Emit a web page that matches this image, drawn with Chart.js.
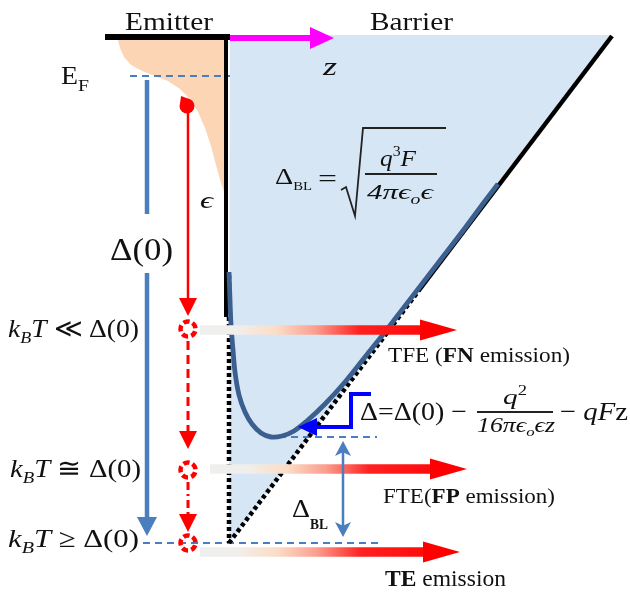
<!DOCTYPE html>
<html><head><meta charset="utf-8">
<script src="https://cdn.jsdelivr.net/npm/chart.js@4/dist/chart.umd.min.js"></script>
<style>html,body{margin:0;padding:0;background:#fff}#wrap{width:630px;height:592px}</style>
</head><body><div id="wrap"><canvas id="c" width="630" height="592"></canvas></div>
<script>
// Diagram coordinates: x = position along z (left to right), y = energy depth (downward)
const barrierRegion = [[230,35],[612,35],[229,543],[230,35]];
const fermiDistribution = [[118,40],[120,48],[124,57],[131,65],[142,71],[155,76],[168,81],[180,89],[190,99],[198,112],[205,128],[211,146],[216,165],[221,183],[226,197],[228,197],[228,40],[118,40]];
const emitterTop = [[105,37],[230,37]];
const wallSolid = [[226,37],[226,317]];
const wallDotted = [[229,275],[229,543]];
const fieldLineSolid = [[420,289],[612,36]];
const fieldLineDotted = [[229,543],[420,289]];
const loweredBarrier = [[229,272],[230,300],[231,325],[233,350],[235,372],[239,395],[245,412],[252,424],[261,433],[271,437],[282,436],[294,431],[308,420],[325,404],[345,382],[365,357],[385,332],[405,306],[425,280],[445,254],[465,228],[485,201],[498,184]];
const fermiLevel = [[130,76],[230,76]];
const barrierMinLevel = [[267,437],[377,437]];
const bottomLevel = [[143,543],[378,543]];
const zAxisArrow = {from:[230,38], tip:[334,38]};
const delta0Arrow = {x:147, top:80, gapTop:214, gapBottom:273, tip:536};
const electronX = 188;
const electronY = [329, 470, 543];
const electronArrowStart = [112, 341, 482];
const electronArrowTip = [316, 449, 532];
const emissionY = [330, 469, 552];
const emissionStartX = [200, 210, 200];
const emissionTipX = [457, 467, 460];
const regimeRelations = ['≪', '≅', '≥'];
const regimeBaselines = [337, 477, 547];
const emissionNames = [['TFE (', 'FN', ' emission)'], ['FTE(', 'FP', ' emission)'], ['', 'TE', ' emission']];
const bracketPath = [[371,394],[351,394],[351,427],[316,427]];
const bracketTip = [298,427];
const deltaBLArrow = {x:343, top:441, bottom:537};
const sqrtPath = [[341,190],[346,187],[355,216],[363,128],[446,128]];
const fracBarBL = [[365,174],[437,174]];
const fracBarImage = [[477,412],[553,412]];

const SERIF = '"Liberation Serif","DejaVu Serif",serif';
const n = s => `${s}px ${SERIF}`;
const it = s => `italic ${s}px ${SERIF}`;
const b = s => `bold ${s}px ${SERIF}`;

const BLUE = '#4a7ebf', RED = '#ff0000';

const datasets = [];
function line(pts, color, width, opts) {
  datasets.push(Object.assign({
    data: pts.map(p => ({x:p[0], y:p[1]})), showLine:true, borderColor:color, backgroundColor:color,
    borderWidth:width, pointRadius:0, pointHoverRadius:0, fill:false, tension:0, borderCapStyle:'butt', borderJoinStyle:'miter'
  }, opts || {}));
}
line(barrierRegion, 'rgba(0,0,0,0)', 0, {fill:'shape', backgroundColor:'#d7e6f4'});
line(fermiDistribution, 'rgba(0,0,0,0)', 0, {fill:'shape', backgroundColor:'#fbd5b4'});
line(fermiLevel, BLUE, 2.2, {borderDash:[7,5]});
line(barrierMinLevel, BLUE, 2, {borderDash:[7,5]});
line(bottomLevel, BLUE, 2.2, {borderDash:[7,5]});
line(emitterTop, '#000', 6);
line(wallSolid, '#000', 4);
line(wallDotted, '#000', 4.5, {borderDash:[4,3]});
line(fieldLineDotted, '#000', 4.5, {borderDash:[4,3]});
line(fieldLineSolid, '#000', 4.5);
line(loweredBarrier, '#3b5f8e', 4.8, {tension:0.4});
line([zAxisArrow.from, [zAxisArrow.tip[0]-22, zAxisArrow.tip[1]]], '#ff00ff', 6);
line([[delta0Arrow.x, delta0Arrow.top],[delta0Arrow.x, delta0Arrow.gapTop]], BLUE, 4.5);
line([[delta0Arrow.x, delta0Arrow.gapBottom],[delta0Arrow.x, delta0Arrow.tip-18]], BLUE, 4.5);
line([[electronX, electronArrowStart[0]],[electronX, electronArrowTip[0]-17]], RED, 2.5);
line([[electronX, electronArrowStart[1]],[electronX, electronArrowTip[1]-17]], RED, 3, {borderDash:[9,5]});
line([[electronX, electronArrowStart[2]],[electronX, electronArrowTip[2]-17]], RED, 3, {borderDash:[8,4,2,4]});
emissionY.forEach((y, i) => {
  const x0 = emissionStartX[i], x1 = emissionTipX[i];
  line([[x0, y],[x1-36, y]], RED, 9.5, {
    borderColor: (ctx) => {
      const ch = ctx.chart; if (!ch.chartArea) return RED;
      const px0 = ch.scales.x.getPixelForValue(x0), px1 = ch.scales.x.getPixelForValue(x1);
      const g = ch.ctx.createLinearGradient(px0, 0, px1, 0);
      g.addColorStop(0, '#efefef'); g.addColorStop(0.14, '#f1efec');
      g.addColorStop(0.3, '#fbdcc6'); g.addColorStop(0.45, '#fb9e8e');
      g.addColorStop(0.62, '#ff2020'); g.addColorStop(1, RED);
      return g;
    }
  });
});
line(bracketPath, '#0000ff', 4);
line([[deltaBLArrow.x, deltaBLArrow.top+10],[deltaBLArrow.x, deltaBLArrow.bottom-10]], BLUE, 2.5);
line(sqrtPath, '#222', 1.8);
line(fracBarBL, '#222', 1.8);
line(fracBarImage, '#222', 1.8);
datasets.forEach((d, i) => d.order = 1000 - i);

function P(chart, p) { return [chart.scales.x.getPixelForValue(p[0]), chart.scales.y.getPixelForValue(p[1])]; }
function head(ctx, chart, tip, dir, len, half, color, notch) {
  const t = P(chart, tip);
  const dx = dir[0], dy = dir[1];
  const bx = t[0] - dx*len, by = t[1] - dy*len;
  const nx = -dy, ny = dx;
  ctx.beginPath();
  ctx.moveTo(t[0], t[1]);
  ctx.lineTo(bx + nx*half, by + ny*half);
  ctx.lineTo(t[0] - dx*len*(1-(notch||0)), t[1] - dy*len*(1-(notch||0)));
  ctx.lineTo(bx - nx*half, by - ny*half);
  ctx.closePath();
  ctx.fillStyle = color; ctx.fill();
}
function runs(ctx, chart, x, y, list, targetW) {
  const p = P(chart, [x, y]);
  ctx.save();
  let w = 0;
  const ws = list.map(r => { ctx.font = r[1]; const m = ctx.measureText(r[0]).width; w += m; return m; });
  const sx = targetW ? targetW / w : 1;
  ctx.translate(p[0], p[1]); ctx.scale(sx, 1);
  ctx.fillStyle = '#111'; ctx.textBaseline = 'alphabetic';
  let cx = 0;
  list.forEach((r, i) => { ctx.font = r[1]; ctx.fillText(r[0], cx, r[2] || 0); cx += ws[i]; });
  ctx.restore();
}

const overlay = {
  id:'overlay',
  afterDatasetsDraw(chart) {
    const ctx = chart.ctx;
    ctx.save();
    // arrow heads
    head(ctx, chart, zAxisArrow.tip, [1,0], 24, 11, '#ff00ff');
    head(ctx, chart, [delta0Arrow.x, delta0Arrow.tip], [0,1], 19, 10, BLUE);
    electronArrowTip.forEach(t => head(ctx, chart, [electronX, t], [0,1], 18, 9, RED));
    emissionY.forEach((y, i) => head(ctx, chart, [emissionTipX[i], y], [1,0], 37, 10.5, RED));
    head(ctx, chart, bracketTip, [-1,0], 19, 9, '#0000ff');
    head(ctx, chart, [deltaBLArrow.x, deltaBLArrow.top], [0,-1], 15, 8, BLUE, 0.25);
    head(ctx, chart, [deltaBLArrow.x, deltaBLArrow.bottom], [0,1], 15, 8, BLUE, 0.25);
    // electrons
    electronY.forEach(y => {
      const c = P(chart, [electronX, y]);
      ctx.beginPath(); ctx.arc(c[0], c[1], 7.5, 0.3, Math.PI*2 + 0.3);
      ctx.setLineDash([6.2, 3.2]); ctx.lineWidth = 4.5; ctx.strokeStyle = RED; ctx.stroke();
    });
    ctx.setLineDash([]);
    // blob at Fermi level start
    const bp = P(chart, [187, 106]);
    ctx.beginPath(); ctx.arc(bp[0], bp[1], 7.5, 0, Math.PI*2); ctx.fillStyle = RED; ctx.fill();
    ctx.beginPath(); ctx.moveTo(bp[0]-7, bp[1]-2); ctx.lineTo(bp[0]-6, bp[1]-10); ctx.lineTo(bp[0]+2, bp[1]-7); ctx.fill();

    // texts
    runs(ctx, chart, 125, 30, [['Emitter', n(26)]], 88);
    runs(ctx, chart, 370, 30, [['Barrier', n(26)]], 83);
    runs(ctx, chart, 323, 75, [['z', it(26)]], 14);
    runs(ctx, chart, 61, 84, [['E', n(26)]], 17);
    runs(ctx, chart, 78, 91, [['F', n(17)]], 11);
    runs(ctx, chart, 200, 208, [['ϵ', it(24)]], 13);
    runs(ctx, chart, 110, 260, [['Δ(0)', n(31)]], 63);
    regimeRelations.forEach((rel, i) => {
      runs(ctx, chart, i === 1 ? 10 : 8, regimeBaselines[i],
        [['k', it(26)], ['B', it(17), 6], ['T', it(26)], [' ' + rel + ' ', n(26)], ['Δ(0)', n(26)]], 131);
    });
    const emX = [388, 383, 385], emB = [362, 503, 586], emW = [182, 172, 121], emS = [21, 21, 23];
    emissionNames.forEach((nm, i) => {
      runs(ctx, chart, emX[i], emB[i], [[nm[0], n(emS[i])], [nm[1], b(emS[i])], [nm[2], n(emS[i])]], emW[i]);
    });
    // Delta_BL formula
    runs(ctx, chart, 275, 184, [['Δ', n(23)], ['BL', n(12), 6]], 37);
    runs(ctx, chart, 318, 186, [['=', n(24)]], 19);
    runs(ctx, chart, 380, 166, [['q', it(24)], ['3', n(15), -10], ['F', it(24)]], 36);
    runs(ctx, chart, 367, 199, [['4', it(22)], ['π', it(22)], ['ϵ', it(22)], ['o', it(14), 5], ['ϵ', it(22)]], 66);
    // image-force barrier formula
    runs(ctx, chart, 360, 420, [['Δ=Δ(0) −', n(26)]], 107);
    runs(ctx, chart, 503, 404, [['q', it(22)], ['2', n(14), -9]], 24);
    runs(ctx, chart, 477, 432, [['16', it(20)], ['π', it(20)], ['ϵ', it(20)], ['o', it(13), 4], ['ϵ', it(20)], ['z', it(20)]], 78);
    runs(ctx, chart, 560, 420, [['− ', n(26)], ['qF', it(26)], ['z', n(26)]], 68);
    // lower Delta_BL label
    runs(ctx, chart, 292, 517, [['Δ', n(26)]], 18);
    runs(ctx, chart, 310, 529, [['BL', b(15)]], 18);
    ctx.restore();
  }
};

new Chart(document.getElementById('c'), {
  type:'scatter',
  data:{datasets},
  options:{
    responsive:false, animation:false, events:[],
    layout:{padding:0},
    scales:{
      x:{type:'linear', min:0, max:630, display:false},
      y:{type:'linear', min:0, max:592, reverse:true, display:false}
    },
    plugins:{legend:{display:false}, tooltip:{enabled:false}},
    clip:false
  },
  plugins:[overlay]
});
</script></body></html>
